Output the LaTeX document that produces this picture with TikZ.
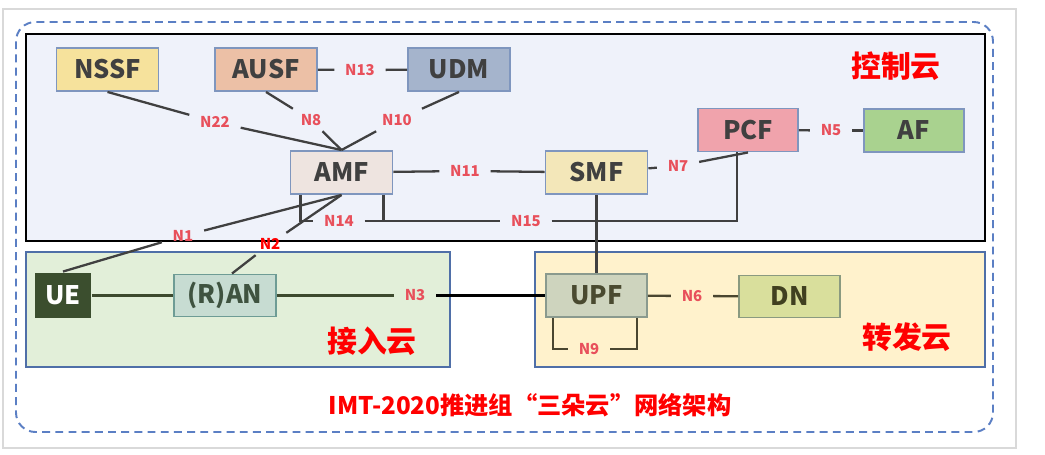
\documentclass[tikz,border=0pt]{standalone}
\usepackage{fontspec}
\setmainfont{Noto Sans CJK SC}
\usepackage{xcolor}
\usetikzlibrary{positioning, calc}
\definecolor{nfedge}{HTML}{7F96BE}
\definecolor{nftext}{HTML}{404040}
\definecolor{lblred}{HTML}{E8505B}
\definecolor{linkgray}{HTML}{404040}
\definecolor{accline}{HTML}{3D4A2E}
\definecolor{fwdline}{HTML}{4A4630}
\definecolor{cloudblue}{HTML}{5B7FC4}
\definecolor{boxblue}{HTML}{4F6FA8}
\definecolor{ctrlfill}{HTML}{EFF2FA}

\begin{document}
\begin{tikzpicture}[
  x=0.02cm, y=-0.02cm,
  nf/.style={rectangle, draw=nfedge, line width=1.1pt, minimum width=2.04cm,
             minimum height=0.86cm, inner sep=0pt, text=nftext,
             font=\fontsize{14.5}{16}\selectfont\bfseries},
  lbl/.style={text=lblred, inner xsep=6pt, inner ysep=3pt,
              font=\fontsize{8.5}{10}\selectfont\bfseries},
  cloudname/.style={text=red, font=\fontsize{17}{20}\selectfont\bfseries},
  link/.style={draw=linkgray, line width=1.3pt}
]
  \useasboundingbox[fill=white] (0,0) rectangle (1045,455);
  \draw[black!15, line width=0.6pt] (3,9) rectangle (1016,448);
  % 三朵云
  \draw[cloudblue, line width=1.1pt, dash pattern=on 4.5pt off 3pt, rounded corners=11pt]
    (16,22) rectangle (993,432);
  \draw[fill=ctrlfill, line width=1.2pt] (26,34) rectangle (985,241);
  \draw[boxblue, fill={rgb,255:red,226;green,239;blue,217}, line width=0.8pt] (26,252) rectangle (450,367);
  \draw[boxblue, fill={rgb,255:red,255;green,242;blue,204}, line width=0.8pt] (535,252) rectangle (985,367);
  \node[cloudname] (ctrl) at (896,66) {控制云};
  \node[cloudname] (acc) at (372,341) {接入云};
  \node[cloudname] (fwd) at (907,337) {转发云};
  \node[text=red, font=\fontsize{13.8}{16}\selectfont\bfseries] (title) at (530,405)
    {IMT-2020推进组“三朵云”网络架构};
  % 控制云：网元
  \node[nf, fill={rgb,255:red,246;green,226;blue,156}] (nssf) at (107.5,69.5) {NSSF};
  \node[nf, fill={rgb,255:red,236;green,192;blue,166}] (ausf) at (266,69.5) {AUSF};
  \node[nf, fill={rgb,255:red,165;green,180;blue,204}] (udm) at (459,69.5) {UDM};
  \node[nf, fill={rgb,255:red,238;green,228;blue,224}] (amf) at (341.5,172.5) {AMF};
  \node[nf, fill={rgb,255:red,243;green,231;blue,185}] (smf) at (596.5,172.5) {SMF};
  \node[nf, fill={rgb,255:red,240;green,163;blue,172}, minimum width=2cm] (pcf) at (748,130) {PCF};
  \node[nf, fill={rgb,255:red,169;green,210;blue,143}, minimum width=2cm] (af) at (914,130.5) {AF};
  % 接入云 / 转发云：网元
  \node[nf, draw=none, fill={rgb,255:red,59;green,78;blue,46}, text=white,
        minimum width=1.12cm, minimum height=0.92cm] (ue) at (63,295.5) {UE};
  \node[nf, draw={rgb,255:red,110;green,156;blue,149}, fill={rgb,255:red,199;green,220;blue,210},
        text={rgb,255:red,63;green,83;blue,64}, minimum height=0.84cm] (ran) at (225,295.5) {(R)AN};
  \node[nf, draw={rgb,255:red,138;green,154;blue,142}, fill={rgb,255:red,206;green,212;blue,190},
        text={rgb,255:red,74;green,74;blue,48}, minimum width=2.02cm] (upf) at (596.5,295.5) {UPF};
  \node[nf, draw={rgb,255:red,138;green,154;blue,128}, fill={rgb,255:red,217;green,223;blue,156},
        text={rgb,255:red,64;green,64;blue,32}, minimum width=2.02cm, minimum height=0.84cm] (dn) at (789.5,296.5) {DN};
  % 接口标签
  \node[lbl] (n22) at (215,122) {N22};
  \node[lbl] (n8) at (311,120) {N8};
  \node[lbl] (n10) at (397,120) {N10};
  \node[lbl] (n13) at (360,70) {N13};
  \node[lbl] (n11) at (465,171) {N11};
  \node[lbl] (n14) at (339,221) {N14};
  \node[lbl] (n15) at (526,221) {N15};
  \node[lbl] (n7) at (678,166) {N7};
  \node[lbl] (n5) at (831,130.5) {N5};
  \node[lbl] (n1) at (183,236) {N1};
  \node[lbl, text=red] (n2) at (270,244) {N2};
  \node[lbl] (n3) at (415,295.5) {N3};
  \node[lbl] (n6) at (692,296) {N6};
  \node[lbl] (n9) at (589,349) {N9};
  % 连线
  \draw[link] (nssf.south) -- (n22);
  \draw[link] (n22) -- (amf.north);
  \draw[link] (ausf.south) -- (n8);
  \draw[link] (n8) -- (amf.north);
  \draw[link] (udm.south) -- (n10);
  \draw[link] (n10) -- (amf.north);
  \draw[link] (ausf) -- (n13);
  \draw[link] (n13) -- (udm);
  \draw[link] (amf) -- (n11);
  \draw[link] (n11) -- (smf);
  \draw[link] (smf) -- (n7);
  \draw[link] (n7) -- (pcf.south);
  \draw[link] (pcf) -- (n5);
  \draw[link] (n5) -- (af);
  \draw[link] ($(amf.south west)+(11,0)$) |- (n14);
  \draw[link] (n14) -- (n15);
  \draw[link] ($(amf.south east)+(-10,0)$) -- ($(amf.south east)+(-10,26)$);
  \draw[link] (n15) -| ($(pcf.south)+(-11,0)$);
  \draw[link] (ue.north) -- (n1);
  \draw[link] (n1) -- (amf.south);
  \draw[link] ($(ran.north)+(7,0)$) -- (n2);
  \draw[link] (n2) -- (amf.south);
  \draw[link, draw=accline] (ue) -- (ran);
  \draw[link, draw=accline] (ran) -- (n3);
  \draw[link, draw=black, line width=1.6pt] (n3) -- (upf);
  \draw[link] (smf) -- (upf);
  \draw[link, draw=fwdline] (upf) -- (n6);
  \draw[link, draw=fwdline] (n6) -- (dn);
  \draw[link, draw=fwdline] ($(upf.south west)+(8,0)$) |- (n9);
  \draw[link, draw=fwdline] ($(upf.south east)+(-11,0)$) |- (n9);
\end{tikzpicture}
\end{document}
